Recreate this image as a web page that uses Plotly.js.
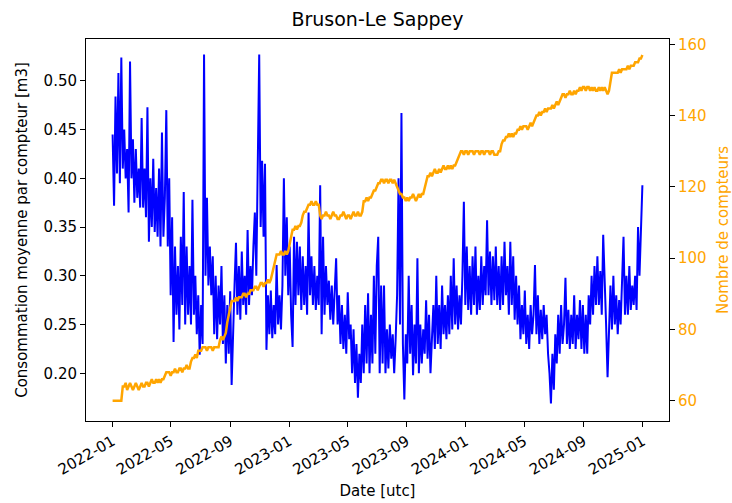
<!DOCTYPE html>
<html>
<head>
<meta charset="utf-8">
<script src="https://cdn.plot.ly/plotly-3.0.1.min.js"></script>
<style>html,body{margin:0;padding:0;background:#fff;}#chart{width:732px;height:503px;}</style>
</head>
<body>
<div id="chart"></div>
<script>
// Sampling: one value every 3 days starting 2022-01-01
const startDate = '2022-01-01';
const stepDays = 3;

// Consommation moyenne par compteur [m3]
const consommation = [
  0.445,0.372,0.484,0.405,0.508,0.395,0.524,0.41,0.45,0.40,
  0.43,0.365,0.52,0.40,0.44,0.375,0.43,0.38,0.41,0.37,
  0.462,0.37,0.41,0.36,0.473,0.335,0.40,0.35,0.42,0.345,
  0.39,0.34,0.41,0.33,0.447,0.34,0.38,0.47,0.33,0.40,
  0.28,0.36,0.232,0.33,0.26,0.31,0.245,0.34,0.27,0.386,
  0.25,0.33,0.26,0.31,0.25,0.378,0.26,0.30,0.24,0.28,
  0.219,0.27,0.23,0.527,0.30,0.38,0.29,0.33,0.28,0.32,
  0.24,0.30,0.235,0.29,0.25,0.31,0.23,0.28,0.21,0.27,
  0.22,0.284,0.188,0.25,0.29,0.334,0.26,0.31,0.255,0.325,
  0.27,0.30,0.26,0.347,0.27,0.31,0.28,0.33,0.365,0.30,
  0.40,0.527,0.35,0.418,0.34,0.415,0.224,0.28,0.24,0.285,
  0.236,0.27,0.24,0.311,0.25,0.28,0.245,0.29,0.40,0.30,
  0.36,0.28,0.33,0.26,0.227,0.34,0.27,0.335,0.28,0.33,
  0.265,0.32,0.27,0.31,0.26,0.365,0.28,0.32,0.27,0.31,
  0.265,0.30,0.27,0.393,0.24,0.34,0.26,0.31,0.27,0.295,
  0.255,0.29,0.25,0.28,0.318,0.25,0.28,0.23,0.27,0.225,
  0.26,0.22,0.283,0.235,0.25,0.20,0.245,0.19,0.23,0.175,
  0.22,0.19,0.25,0.20,0.27,0.21,0.282,0.20,0.26,0.21,
  0.30,0.22,0.31,0.34,0.20,0.29,0.21,0.29,0.20,0.245,
  0.205,0.25,0.215,0.24,0.20,0.235,0.28,0.40,0.25,0.467,
  0.23,0.173,0.24,0.21,0.30,0.22,0.27,0.198,0.25,0.21,
  0.318,0.20,0.25,0.21,0.245,0.22,0.275,0.215,0.26,0.20,
  0.24,0.27,0.225,0.30,0.23,0.27,0.225,0.29,0.24,0.27,
  0.235,0.28,0.24,0.30,0.245,0.318,0.25,0.29,0.245,0.28,
  0.25,0.30,0.376,0.27,0.33,0.265,0.31,0.26,0.32,0.27,
  0.33,0.26,0.30,0.265,0.32,0.27,0.31,0.28,0.357,0.28,
  0.325,0.27,0.32,0.275,0.33,0.27,0.31,0.265,0.32,0.27,
  0.335,0.28,0.31,0.26,0.335,0.27,0.32,0.255,0.30,0.25,
  0.29,0.235,0.27,0.24,0.285,0.23,0.26,0.225,0.27,0.24,
  0.26,0.311,0.24,0.28,0.23,0.265,0.235,0.27,0.24,0.26,
  0.22,0.20,0.169,0.22,0.183,0.24,0.21,0.26,0.22,0.27,
  0.23,0.25,0.298,0.23,0.265,0.225,0.26,0.23,0.28,0.225,
  0.26,0.235,0.275,0.225,0.27,0.22,0.26,0.22,0.28,0.25,
  0.30,0.26,0.31,0.27,0.32,0.27,0.305,0.26,0.342,0.28,
  0.25,0.196,0.24,0.29,0.245,0.30,0.25,0.28,0.24,0.275,
  0.25,0.29,0.34,0.26,0.30,0.26,0.31,0.265,0.29,0.27,
  0.30,0.265,0.35,0.30,0.36,0.393
];

// Nombre de compteurs
const compteurs = [
  60,60,60,60,60,60,60,
  64,64,65,63,64,65,64,63,64,65,64,63,64,65,64,64,65,
  65,64,65,66,65,65,66,65,66,65,66,
  66,67,68,
  68,68,67,68,68,69,68,68,
  69,69,68,69,69,70,69,69,
  71,72,72,73,72,
  74,74,74,75,
  75,75,74,75,75,75,74,75,75,75,75,
  77,78,77,78,
  79,82,84,86,88,
  88,88,89,88,89,
  89,89,90,90,89,90,90,
  91,91,91,92,92,91,92,93,93,92,93,93,94,93,
  94,96,97,99,101,
  101,101,102,101,101,102,101,102,
  104,106,108,
  108,109,108,109,109,110,
  112,113,113,114,115,115,116,
  115,115,116,115,115,
  112,
  111,112,112,113,112,112,111,112,113,112,112,111,111,112,112,113,112,111,112,112,111,112,113,112,112,113,112,112,113,
  116,116,117,116,117,117,118,119,
  119,120,121,121,122,122,121,122,122,121,122,122,121,122,121,
  120,119,118,118,
  117,117,116,117,116,117,117,118,117,116,117,118,117,118,118,
  120,122,123,123,
  124,123,124,125,124,124,125,124,125,126,125,125,126,125,126,125,126,126,127,
  128,129,130,
  130,129,130,130,129,130,130,130,129,130,130,130,129,130,130,129,130,130,130,129,130,130,129,129,129,130,130,
  132,133,133,
  134,134,135,134,135,134,135,135,
  136,136,137,136,137,137,137,136,137,138,137,138,
  139,140,140,
  141,140,141,141,142,141,142,142,142,
  143,142,143,144,143,144,
  145,146,146,145,146,146,147,146,146,147,146,
  147,147,148,147,148,148,147,148,148,
  147,148,147,148,147,147,148,147,148,147,148,147,146,147,
  150,152,152,152,
  152,152,153,152,153,153,153,153,154,153,154,
  154,154,155,155,155,156,156,157
];

const leftTicks = [0.20,0.25,0.30,0.35,0.40,0.45,0.50];
const rightTicks = [60,80,100,120,140,160];
const xTickDates = ['2022-01-01','2022-05-01','2022-09-01','2023-01-01','2023-05-01','2023-09-01','2024-01-01','2024-05-01','2024-09-01','2025-01-01'];

function makeDates(n){
  const out=[]; const t0=Date.parse(startDate+'T00:00:00Z');
  for(let i=0;i<n;i++){ out.push(new Date(t0+i*stepDays*86400000).toISOString().slice(0,10)); }
  return out;
}
const datesC = makeDates(consommation.length);
const datesN = makeDates(compteurs.length);

const font = 'DejaVu Sans, sans-serif';
const traces = [
  {x: datesC, y: consommation, type:'scatter', mode:'lines', line:{color:'#0000ff', width:2}, yaxis:'y', hoverinfo:'skip'},
  {x: datesN, y: compteurs, type:'scatter', mode:'lines', line:{color:'#ffa500', width:2.5}, yaxis:'y2', hoverinfo:'skip'}
];
const layout = {
  width:732, height:503,
  margin:{l:86, r:63, t:39, b:82},
  paper_bgcolor:'#fff', plot_bgcolor:'#fff',
  showlegend:false,
  font:{family:font, size:15, color:'#000'},
  title:{text:'Bruson-Le Sappey', font:{family:font, size:19, color:'#000'}, x:0.5157, xanchor:'center', y:0.962, yanchor:'middle'},
  xaxis:{
    type:'date', range:['2021-11-07','2025-02-24'],
    tickvals:xTickDates, tickformat:'%Y-%m', tickangle:-30,
    ticks:'outside', ticklen:5, tickwidth:1, tickcolor:'#000',
    showline:true, linecolor:'#000', linewidth:1, mirror:true,
    showgrid:false, zeroline:false,
    tickfont:{family:font, size:15},
    title:{text:'Date [utc]', font:{family:font, size:15}, standoff:7}
  },
  yaxis:{
    range:[0.151,0.543], tickvals:leftTicks, tickformat:'.2f',
    ticks:'outside', ticklen:5, tickwidth:1, tickcolor:'#000',
    showline:true, linecolor:'#000', linewidth:1, mirror:true,
    showgrid:false, zeroline:false,
    tickfont:{family:font, size:15},
    title:{text:'Consommation moyenne par compteur [m3]', font:{family:font, size:15}, standoff:12}
  },
  yaxis2:{
    overlaying:'y', side:'right', range:[54.3,161.5], tickvals:rightTicks,
    ticks:'outside', ticklen:5, tickwidth:1, tickcolor:'#000',
    showline:false, showgrid:false, zeroline:false,
    tickfont:{family:font, size:15, color:'#ffa500'},
    title:{text:'Nombre de compteurs', font:{family:font, size:15, color:'#ffa500'}, standoff:14}
  }
};
Plotly.newPlot('chart', traces, layout, {displayModeBar:false, staticPlot:true});
</script>
</body>
</html>
